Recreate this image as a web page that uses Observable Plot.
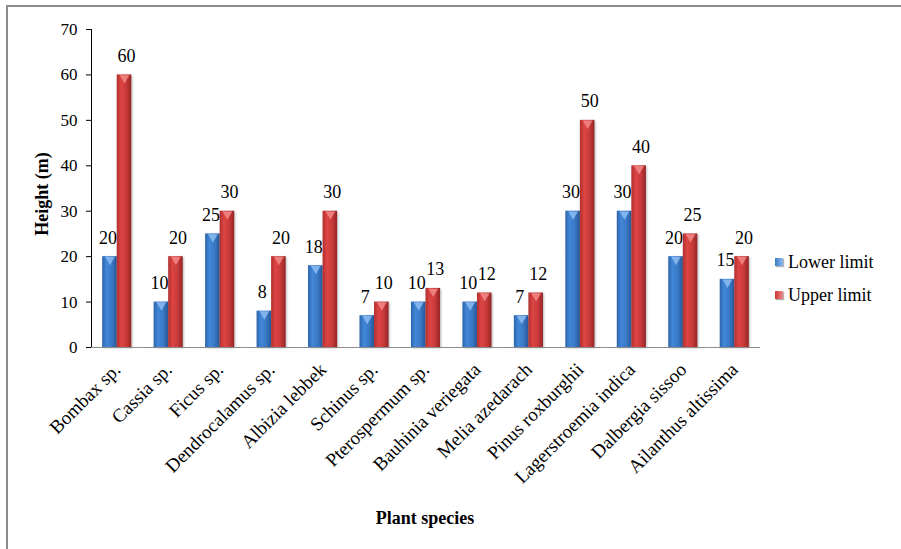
<!DOCTYPE html>
<html>
<head>
<meta charset="utf-8">
<script src="https://cdn.jsdelivr.net/npm/d3@7"></script>
<script src="https://cdn.jsdelivr.net/npm/@observablehq/plot@0.6"></script>
<style>
  body { margin: 0; background: #fff; }
  #wrap { position: relative; width: 901px; height: 549px; font-family: "Liberation Serif", "Times New Roman", serif; color: #000; }
  #frame { position: absolute; left: 6px; top: 5px; right: 0; bottom: 0; border-top: 2px solid #8c8c8c; border-left: 2px solid #8c8c8c; pointer-events: none; }
  #chart { position: absolute; left: 0; top: 0; }
  #chart svg text { font-family: "Liberation Serif", "Times New Roman", serif !important; }
  .title { position: absolute; font-family: "Liberation Serif", "Times New Roman", serif; font-weight: bold; font-size: 18px; white-space: nowrap; }
  #ytitle { left: 42px; top: 194px; transform: translate(-50%, -50%) rotate(-90deg); }
  #xtitle { left: 425px; top: 518px; transform: translate(-50%, -50%); }
  #legend { position: absolute; left: 775px; top: 250px; font-family: "Liberation Serif", "Times New Roman", serif; font-size: 18px; }
  #legend .item { display: flex; align-items: center; height: 24px; margin-bottom: 9px; }
  #legend .sw { width: 8px; height: 8px; margin-right: 5px; }
</style>
</head>
<body>
<div id="wrap">
  <div id="chart"></div>
  <div id="frame"></div>
  <div class="title" id="ytitle">Height (m)</div>
  <div class="title" id="xtitle">Plant species</div>
  <div id="legend"></div>
</div>
<script>
// Height range of common plant species (m)
const species = [
  "Bombax sp.", "Cassia sp.", "Ficus sp.", "Dendrocalamus sp.", "Albizia lebbek",
  "Schinus sp.", "Pterospermum sp.", "Bauhinia veriegata", "Melia azedarach",
  "Pinus roxburghii", "Lagerstroemia indica", "Dalbergia sissoo", "Ailanthus altissima"
];
const lowerLimit = [20, 10, 25, 8, 18, 7, 10, 10, 7, 30, 30, 20, 15];
const upperLimit = [60, 20, 30, 20, 30, 10, 13, 12, 12, 50, 40, 25, 20];
const seriesNames = ["Lower limit", "Upper limit"];
const yTicks = [0, 10, 20, 30, 40, 50, 60, 70];

const seriesStyle = {
  "Lower limit": {id: "grad-lower", cap: "#8dbcf2", swatch: "#3b7bc9", nudge: -2},
  "Upper limit": {id: "grad-upper", cap: "#f28a88", swatch: "#c83a3a", nudge: 2}
};

const rows = [];
species.forEach((s, i) => {
  rows.push({species: s, series: seriesNames[0], value: lowerLimit[i]});
  rows.push({species: s, series: seriesNames[1], value: upperLimit[i]});
});

const marks = [];
for (const name of seriesNames) {
  const data = rows.filter(d => d.series === name);
  const st = seriesStyle[name];
  marks.push(
    Plot.barY(data, {fx: "species", x: "series", y: "value", fill: `url(#${st.id})`, className: "bar"}),
    Plot.dot(data, {fx: "species", x: "series", y: "value", symbol: "triangle", rotate: 180, r: 3.6, dy: 3, fill: st.cap, fillOpacity: 0.85, stroke: "none"}),
    Plot.text(data, {fx: "species", x: "series", y: "value", text: d => String(d.value), lineAnchor: "bottom", dy: -13, dx: st.nudge, fontSize: 18, fill: "#000"})
  );
}
marks.push(Plot.ruleY([0], {stroke: "#8c8c8c", strokeWidth: 1.2}));

const chart = Plot.plot({
  width: 901,
  height: 549,
  marginLeft: 91,
  marginRight: 141,
  marginTop: 29,
  marginBottom: 202,
  style: {fontFamily: "Liberation Serif, serif", fontSize: "17px", color: "#000", background: "transparent"},
  fx: {domain: species, paddingInner: 0, paddingOuter: 0, round: false, tickRotate: -45, tickSize: 0, tickPadding: 19, label: null},
  x: {domain: seriesNames, paddingInner: 0, paddingOuter: 0.77, round: false, axis: null},
  y: {domain: [0, 70], ticks: yTicks, tickSize: 5, tickPadding: 9, line: true, label: null},
  marks
});

const svg = d3.select(chart.tagName.toLowerCase() === "svg" ? chart : chart.querySelector("svg"));
const defs = svg.insert("defs", ":first-child");
function grad(id, stops) {
  const g = defs.append("linearGradient").attr("id", id).attr("x1", 0).attr("x2", 1).attr("y1", 0).attr("y2", 0);
  stops.forEach(([o, c]) => g.append("stop").attr("offset", o).attr("stop-color", c));
}
grad("grad-lower", [[0, "#2d64ab"], [0.3, "#4287d8"], [0.65, "#3a79c6"], [1, "#27589a"]]);
grad("grad-upper", [[0, "#b12f2f"], [0.3, "#dc4543"], [0.65, "#c93a3a"], [1, "#952525"]]);
svg.selectAll(".bar rect").style("filter", "drop-shadow(1.5px 1px 1px rgba(0,0,0,0.28))");
// category labels a touch larger than the value axis
svg.selectAll("[aria-label^='fx-axis'] text").style("font-size", "19px");

document.getElementById("chart").appendChild(chart);

const legend = d3.select("#legend");
for (const name of seriesNames) {
  const item = legend.append("div").attr("class", "item");
  item.append("div").attr("class", "sw")
    .style("background", `linear-gradient(90deg, ${seriesStyle[name].swatch}, ${seriesStyle[name].cap})`)
    .style("box-shadow", "1px 1px 1px rgba(0,0,0,0.3)");
  item.append("span").text(name);
}
</script>
</body>
</html>
